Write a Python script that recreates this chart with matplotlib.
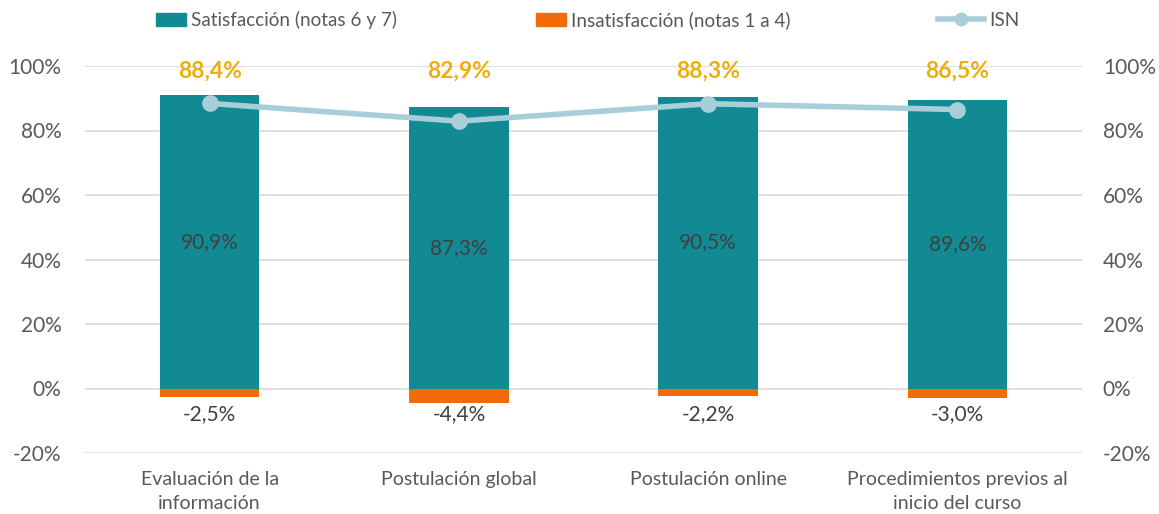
import matplotlib
matplotlib.use("Agg")
import matplotlib.pyplot as plt
from matplotlib.lines import Line2D
from matplotlib.patches import Patch, Rectangle
from matplotlib.legend_handler import HandlerPatch
import numpy as np

categories = ["Evaluación de la\ninformación", "Postulación global", "Postulación online",
              "Procedimientos previos al\ninicio del curso"]
satisfaccion = [90.9, 87.3, 90.5, 89.6]
insatisfaccion = [-2.5, -4.4, -2.2, -3.0]
isn = [88.4, 82.9, 88.3, 86.5]
yticks = [-20, 0, 20, 40, 60, 80, 100]

teal = "#118A94"
orange = "#F26B0A"
isn_col = "#A8CEDA"
gold = "#EBAE0C"
txt = "#595959"

plt.rcParams['font.family'] = ['Lato', 'DejaVu Sans']

fig = plt.figure(figsize=(11.59, 5.14), dpi=100)
ax = fig.add_axes([85/1159, 61/514, 997/1159, 387/514])
x = np.arange(len(categories))
w = 0.4
ax.bar(x, satisfaccion, w, color=teal, zorder=2)
ax.bar(x, insatisfaccion, w, color=orange, zorder=2)
ax.plot(x, isn, color=isn_col, lw=4, marker='o', ms=11, zorder=3)

for xi, s, n, i in zip(x, satisfaccion, insatisfaccion, isn):
    ax.text(xi, s / 2, f"{s:.1f}%".replace('.', ','), ha='center', va='center',
            fontsize=15, color="#404040", zorder=4)
    ax.text(xi, -4.8, f"{n:.1f}%".replace('.', ','), ha='center', va='top',
            fontsize=15, color="#404040")
    ax.text(xi, 98.5, f"{i:.1f}%".replace('.', ','), ha='center', va='center',
            fontsize=16.5, color=gold, fontweight='bold', zorder=4)

ax.set_xlim(-0.5, 3.5)
ax.set_ylim(-20, 100)
ax.set_yticks(yticks)
ax.set_yticklabels([f"{t}%" for t in yticks])
ax.set_xticks(x)
ax.set_xticklabels(categories)
ax.grid(axis='y', color='#D9D9D9', lw=1.2, zorder=0)
ax.set_axisbelow(True)
for sp in ax.spines.values():
    sp.set_visible(False)
ax.tick_params(axis='both', length=0, labelsize=15, colors=txt)
ax.tick_params(axis='y', pad=17)
ax.tick_params(axis='x', pad=13)
for lab in ax.get_xticklabels():
    lab.set_fontsize(14)
    lab.set_linespacing(1.5)

ax2 = ax.twinx()
ax2.set_ylim(-20, 100)
ax2.set_yticks(yticks)
ax2.set_yticklabels([f"{t}%" for t in yticks])
for sp in ax2.spines.values():
    sp.set_visible(False)
ax2.tick_params(axis='y', length=0, labelsize=15, colors=txt, pad=15)


def small_rect(legend, orig_handle, xdescent, ydescent, width, height, fontsize):
    return Rectangle((-xdescent + width * 0.35, -ydescent), width * 0.65, height)


labels = ["Satisfacción (notas 6 y 7)", "Insatisfacción (notas 1 a 4)", "ISN"]
handles = [Patch(color=teal), Patch(color=orange),
           Line2D([0], [0], color=isn_col, lw=4, marker='o', ms=9)]
xpos = [140, 520, 938]
for h, l, xp in zip(handles, labels, xpos):
    leg = fig.legend([h], [l], loc='center left', bbox_to_anchor=(xp / 1159, 0.961),
                     frameon=False, fontsize=13.6, handlelength=2.45, handletextpad=0.27,
                     labelcolor=txt, borderpad=0, borderaxespad=0,
                     handler_map={Patch: HandlerPatch(patch_func=small_rect)})

fig.savefig("out.png", dpi=100)
